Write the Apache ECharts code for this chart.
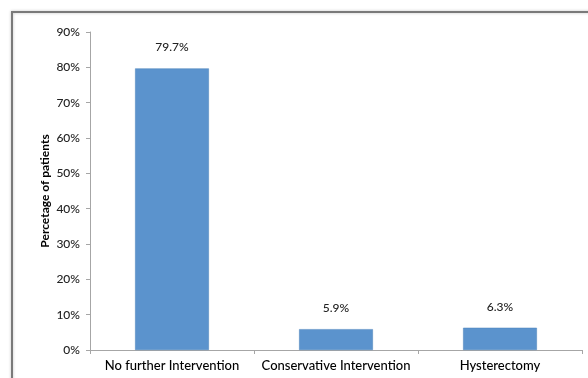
<!DOCTYPE html>
<html>
<head>
<meta charset="utf-8">
<script src="https://cdn.jsdelivr.net/npm/echarts@6/dist/echarts.min.js"></script>
<style>
  html, body { margin: 0; padding: 0; background: #fff; }
  #chart { width: 588px; height: 378px; }
</style>
</head>
<body>
<div id="chart"></div>
<script>
// Outcome categories and share of patients (%)
const categories = ['No further Intervention', 'Conservative Intervention', 'Hysterectomy'];
const percentages = [79.7, 5.9, 6.3];
const yTicks = { min: 0, max: 90, interval: 10 };

const chart = echarts.init(document.getElementById('chart'));
const axisGray = '#a6a6a6';
const font = 'Lato, "Open Sans", sans-serif';

chart.setOption({
  animation: false,
  graphic: [{
    type: 'rect',
    shape: { x: 12, y: 12, width: 700, height: 500 },
    style: { fill: 'none', stroke: '#7a7a7a', lineWidth: 2,
             shadowColor: 'rgba(0,0,0,0.25)', shadowBlur: 3 },
    silent: true, z: -10
  }],
  grid: { left: 90, right: 6, top: 32, bottom: 28 },
  xAxis: {
    type: 'category',
    data: categories,
    axisLine: { lineStyle: { color: axisGray, width: 1 } },
    axisTick: { show: true, alignWithLabel: false, length: 4, lineStyle: { color: axisGray } },
    axisLabel: { interval: 0, color: '#000', fontFamily: font, fontSize: 13, fontWeight: 500, margin: 9 }
  },
  yAxis: {
    type: 'value',
    min: yTicks.min, max: yTicks.max, interval: yTicks.interval,
    name: 'Percetage of patients',
    nameLocation: 'middle',
    nameGap: 39,
    nameMoveOverlap: false,
    nameTextStyle: { color: '#000', fontFamily: font, fontSize: 12, fontWeight: 'bold' },
    axisLine: { show: true, lineStyle: { color: axisGray, width: 1 } },
    axisTick: { show: true, length: 4, lineStyle: { color: axisGray } },
    splitLine: { show: false },
    axisLabel: { formatter: '{value}%', color: '#222', fontFamily: font, fontSize: 12, fontWeight: 500, margin: 10 }
  },
  series: [{
    type: 'bar',
    data: percentages,
    barWidth: '45%',
    itemStyle: { color: '#5b93cd', borderColor: '#4a80bb', borderWidth: 0.5 },
    label: {
      show: true, position: 'top', distance: 15,
      formatter: p => p.value.toFixed(1) + '%',
      color: '#222', fontFamily: font, fontSize: 12, fontWeight: 500
    }
  }]
});
</script>
</body>
</html>
